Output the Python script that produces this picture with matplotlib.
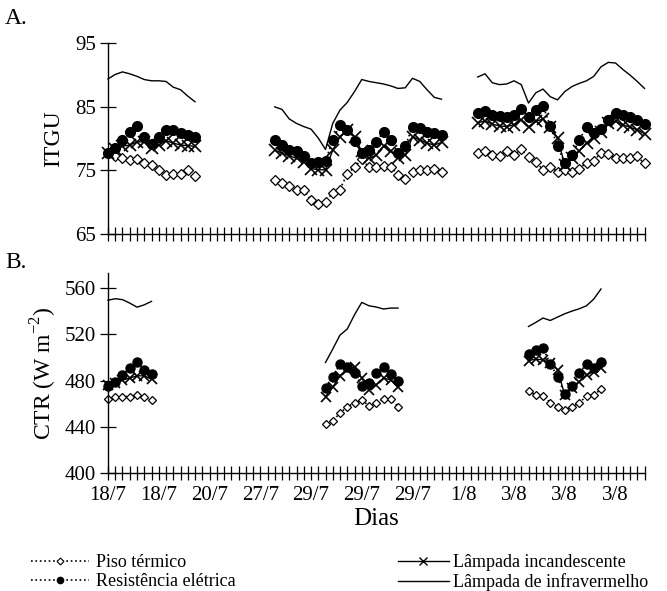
import numpy as np
import matplotlib
matplotlib.use('Agg')
import matplotlib.pyplot as plt
from matplotlib.lines import Line2D

plt.rcParams['font.family'] = ['Liberation Serif', 'DejaVu Serif']

# categorias do eixo x (75 leituras), rótulo a cada 7
n_cat = 75
dias = ['18/7', '18/7', '20/7', '27/7', '29/7', '29/7', '29/7', '1/8', '3/8', '3/8', '3/8']

# ---- A. ITGU ----
a_ini = [0, 23, 51]
a_piso = [
    [77.7, 77.3, 77.0, 76.7, 76.8, 76.2, 75.9, 75.1, 74.3, 74.5, 74.5, 75.1, 74.1],
    [73.5, 73.0, 72.5, 72.0, 72.0, 70.3, 69.7, 70.1, 71.5, 72.0, 74.5, 75.5,
     76.8, 75.5, 75.6, 75.7, 75.6, 74.3, 73.6, 74.8, 75.1, 75.0, 75.3, 74.7],
    [77.8, 78.1, 77.4, 77.3, 78.1, 77.4, 78.3, 77.1, 76.4, 75.1, 75.6, 74.8,
     75.1, 74.8, 75.3, 76.2, 76.5, 77.8, 77.6, 76.9, 76.9, 77.0, 77.2, 76.1],
]
a_resist = [
    [77.7, 78.5, 79.8, 81.1, 82.0, 80.2, 79.2, 80.2, 81.3, 81.3, 80.9, 80.6, 80.2],
    [79.8, 79.0, 78.2, 78.0, 77.2, 76.2, 76.4, 76.5, 79.8, 82.2, 81.4, 79.6,
     77.7, 78.2, 79.5, 81.1, 79.8, 77.7, 78.8, 81.9, 81.6, 81.0, 80.9, 80.6],
    [84.1, 84.4, 83.7, 83.5, 83.4, 83.7, 84.7, 83.4, 84.5, 85.2, 82.0, 78.9,
     76.1, 77.4, 79.8, 81.8, 80.9, 81.5, 83.0, 84.0, 83.7, 83.4, 83.0, 82.3],
]
a_incand = [
    [77.8, 78.3, 78.8, 79.0, 79.5, 79.5, 78.6, 79.0, 79.7, 79.3, 79.0, 78.9, 78.8],
    [78.2, 77.7, 77.3, 76.9, 76.4, 75.3, 75.1, 75.1, 78.2, 80.3, 81.4, 80.3,
     78.0, 76.9, 77.4, 78.8, 78.0, 76.9, 77.4, 80.3, 79.8, 79.3, 79.0, 79.4],
    [82.5, 82.8, 82.3, 82.0, 81.9, 82.2, 83.0, 81.8, 82.7, 83.1, 81.9, 80.1,
     75.9, 76.9, 78.1, 79.3, 80.1, 81.1, 82.4, 82.7, 82.2, 81.8, 81.4, 80.8],
]
a_infra = [
    [89.4, 90.1, 90.5, 90.2, 89.8, 89.3, 89.1, 89.1, 89.0, 88.1, 87.7, 86.7, 85.8],
    [85.0, 84.6, 83.1, 82.4, 81.9, 81.5, 80.1, 78.3, 82.4, 84.5, 85.7, 87.4,
     89.3, 89.0, 88.8, 88.6, 88.3, 87.9, 88.0, 89.5, 89.0, 87.7, 86.5, 86.2],
    [89.7, 90.2, 88.8, 88.5, 88.6, 89.1, 88.5, 85.6, 87.2, 87.8, 86.6, 86.1,
     87.4, 88.2, 88.7, 89.1, 89.8, 91.3, 92.0, 91.9, 90.9, 90.0, 89.0, 87.9],
]

# ---- B. CTR ----
b_ini = [0, 30, 58]
b_piso = [
    [464.0, 465.7, 466.3, 466.3, 467.7, 465.7, 463.4],
    [442.6, 445.5, 451.9, 457.6, 460.6, 463.4, 458.2, 460.6, 464.0, 464.0, 457.6],
    [471.0, 467.7, 466.9, 461.1, 457.6, 454.8, 457.6, 460.6, 466.9, 467.7, 472.7],
]
b_resist = [
    [475.5, 479.2, 485.0, 490.8, 496.5, 489.4, 485.9],
    [473.5, 483.6, 494.3, 491.7, 487.0, 475.5, 477.9, 486.5, 491.7, 485.9, 479.8],
    [503.2, 506.7, 508.1, 494.6, 483.6, 468.6, 475.5, 486.5, 494.6, 490.8, 495.7],
]
b_incand = [
    [476.4, 478.4, 480.7, 482.2, 484.2, 484.2, 481.3],
    [466.3, 474.4, 484.2, 489.4, 492.2, 482.2, 472.1, 476.4, 482.2, 480.7, 474.4],
    [497.4, 498.6, 498.0, 495.2, 489.4, 467.7, 473.5, 479.2, 485.0, 487.9, 490.8],
]
b_infra = [
    [549.5, 550.8, 550.0, 547.0, 543.5, 545.5, 548.5],
    [495.7, 507.3, 519.4, 524.6, 536.9, 547.6, 544.7, 543.6, 541.9, 542.7, 542.7],
    [526.8, 530.3, 534.1, 532.0, 534.9, 537.8, 540.1, 542.1, 544.7, 550.5, 559.2],
]


def desenha(ax, ini, piso, resist, incand, infra, ms):
    for k in range(len(ini)):
        xs = ini[k] + np.arange(len(piso[k]))
        ax.plot(xs, piso[k], ':', color='k', lw=1.2, marker='D',
                ms=ms[0], mfc='white', mec='k', mew=0.9, clip_on=False)
        ax.plot(xs, resist[k], ':', color='k', lw=1.2, marker='o',
                ms=ms[1], mfc='k', mec='k', clip_on=False)
        ax.plot(xs, incand[k], '-', color='k', lw=1.0, marker='x',
                ms=ms[2], mew=1.2, clip_on=False)
        ax.plot(xs, infra[k], '-', color='k', lw=1.0, clip_on=False)


def eixos(ax, com_rotulos):
    ax.spines['top'].set_visible(False)
    ax.spines['right'].set_visible(False)
    ax.spines['left'].set_linewidth(1.0)
    ax.spines['bottom'].set_linewidth(1.0)
    ax.set_xlim(0, n_cat - 1)
    ax.set_xticks(range(n_cat))
    rot = [''] * n_cat
    if com_rotulos:
        for i, d in enumerate(dias):
            rot[i * 7] = d
    ax.set_xticklabels(rot)
    ax.tick_params(axis='x', direction='inout', length=10, width=0.9,
                   labelsize=15, pad=4)
    ax.tick_params(axis='y', direction='inout', length=11, width=0.9,
                   labelsize=15, pad=3)


fig = plt.figure(figsize=(6.67, 5.91), dpi=100)
W, H = 667.0, 591.0
axA = fig.add_axes([108 / W, 1 - 234 / H, (644.5 - 108) / W, (234 - 43.3) / H])
axB = fig.add_axes([108 / W, 1 - 473.3 / H, (644.5 - 108) / W, (473.3 - 273) / H])

desenha(axA, a_ini, a_piso, a_resist, a_incand, a_infra, ms=(5, 7, 8))
desenha(axB, b_ini, b_piso, b_resist, b_incand, b_infra, ms=(4.5, 6.5, 7.5))

eixos(axA, False)
axA.set_ylim(65, 95)
axA.set_yticks([65, 75, 85, 95])
axA.set_ylabel('ITGU', fontsize=17, labelpad=8)

eixos(axB, True)
axB.set_ylim(400, 573)
axB.set_yticks([400, 440, 480, 520, 560])
axB.set_ylabel('CTR (W m$^{\\mathregular{-2}}$)', fontsize=17, labelpad=4)
axB.set_xlabel('Dias', fontsize=18, labelpad=2)

fig.text(5 / W, 1 - 18 / H, 'A.', fontsize=17, va='center', ha='left')
fig.text(5 / W, 1 - 262 / H, 'B.', fontsize=17, va='center', ha='left')

h_piso = Line2D([], [], ls=':', color='k', lw=1.2, marker='D', ms=3.5,
                mfc='white', mec='k', mew=0.8)
h_resist = Line2D([], [], ls=':', color='k', lw=1.2, marker='o', ms=4.5,
                  mfc='k', mec='k')
h_incand = Line2D([], [], ls='-', color='k', lw=1.0, marker='x', ms=5.5)
h_infra = Line2D([], [], ls='-', color='k', lw=1.0)

leg1 = fig.legend([h_piso, h_resist], ['Piso térmico', 'Resistência elétrica'],
                  loc='upper left', bbox_to_anchor=(24 / W, 1 - 547 / H),
                  frameon=False, fontsize=13, handlelength=3.2,
                  handletextpad=0.4, labelspacing=0.12, borderaxespad=0)
leg2 = fig.legend([h_incand, h_infra],
                  ['Lâmpada incandescente', 'Lâmpada de infravermelho'],
                  loc='upper left', bbox_to_anchor=(391 / W, 1 - 547 / H),
                  frameon=False, fontsize=13, handlelength=2.8,
                  handletextpad=0.25, labelspacing=0.12, borderaxespad=0)

fig.savefig('out.png', dpi=100)
